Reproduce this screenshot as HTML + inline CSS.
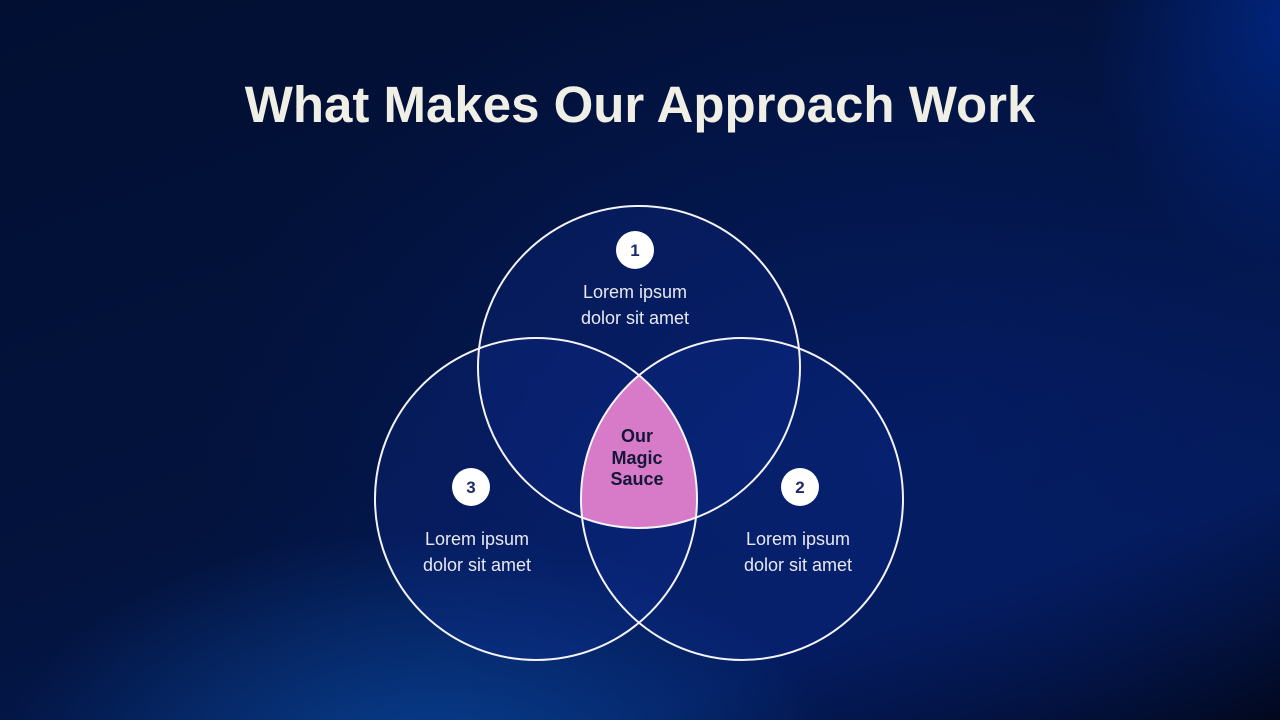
<!DOCTYPE html>
<html><head><meta charset="utf-8"><style>
html,body{margin:0;padding:0;}
body{width:1280px;height:720px;overflow:hidden;position:relative;font-family:"Liberation Sans",sans-serif;
background:
radial-gradient(ellipse 420px 240px at 420px 770px, rgba(10,80,170,0.7), rgba(10,60,150,0) 100%),
radial-gradient(ellipse 200px 260px at 1290px 20px, rgba(0,40,140,0.8), rgba(0,30,120,0) 100%),
radial-gradient(ellipse 700px 500px at 900px 450px, rgba(4,30,110,0.7), rgba(4,25,90,0) 100%),
linear-gradient(160deg,#020f33 0%,#03133d 50%,#041a55 80%,#01030d 100%);}
h1{position:absolute;top:75px;left:0;width:1280px;text-align:center;margin:0;color:#f0efe6;font-size:51px;font-weight:bold;letter-spacing:0;}
</style></head><body>
<h1>What Makes Our Approach Work</h1>
<svg width="1280" height="720" style="position:absolute;left:0;top:0">
<defs>
<clipPath id="cl"><circle cx="536" cy="499" r="161"/></clipPath>
<clipPath id="cr"><circle cx="742" cy="499" r="161"/></clipPath>
</defs>
<g fill="rgba(20,50,160,0.22)">
<circle cx="639" cy="367" r="161"/>
<circle cx="536" cy="499" r="161"/>
<circle cx="742" cy="499" r="161"/>
</g>
<g clip-path="url(#cl)"><g clip-path="url(#cr)"><circle cx="639" cy="367" r="161" fill="#d77ac8"/></g></g>
<g fill="none" stroke="#f4f4f8" stroke-width="2">
<circle cx="639" cy="367" r="161"/>
<circle cx="536" cy="499" r="161"/>
<circle cx="742" cy="499" r="161"/>
</g>
<g fill="#fff"><circle cx="635" cy="250" r="19"/><circle cx="471" cy="487" r="19"/><circle cx="800" cy="487" r="19"/></g>
<g font-family="Liberation Sans, sans-serif" font-weight="bold" font-size="17" fill="#1f2a6b" text-anchor="middle">
<text x="635" y="256">1</text><text x="471" y="493">3</text><text x="800" y="493">2</text>
</g>
<g font-family="Liberation Sans, sans-serif" font-size="18" fill="#e8e8f0" text-anchor="middle">
<text x="635" y="298">Lorem ipsum</text><text x="635" y="324">dolor sit amet</text>
<text x="477" y="545">Lorem ipsum</text><text x="477" y="571">dolor sit amet</text>
<text x="798" y="545">Lorem ipsum</text><text x="798" y="571">dolor sit amet</text>
</g>
<g font-family="Liberation Sans, sans-serif" font-weight="bold" font-size="18" fill="#14163a" text-anchor="middle">
<text x="637" y="442">Our</text><text x="637" y="464">Magic</text><text x="637" y="485">Sauce</text>
</g>
</svg>
</body></html>
